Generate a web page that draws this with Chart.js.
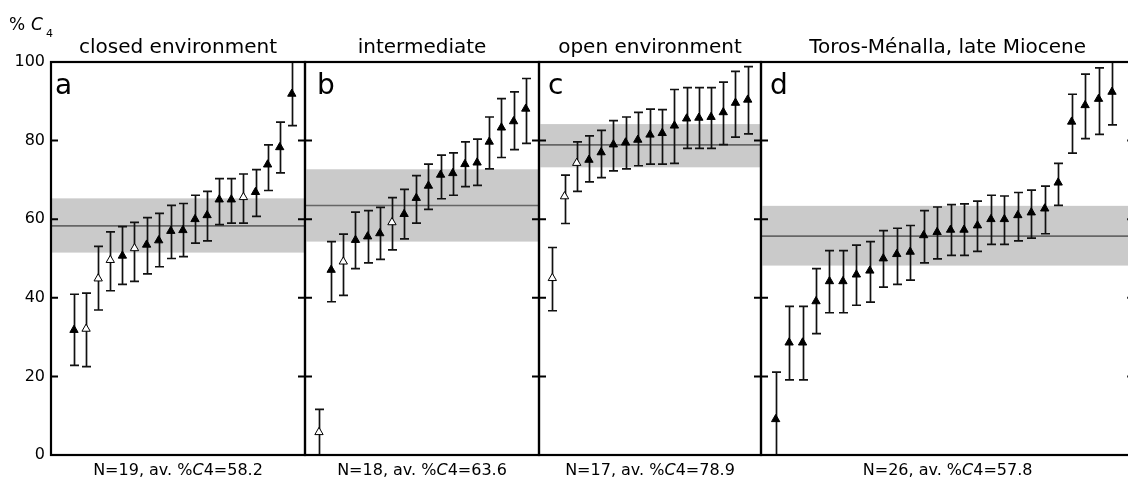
<!DOCTYPE html>
<html><head><meta charset="utf-8">
<script src="https://cdn.jsdelivr.net/npm/chart.js@4.4.1/dist/chart.umd.min.js"></script>
<style>
html,body{margin:0;padding:0;background:#fff;overflow:hidden;}
#wrap{position:relative;width:1128px;height:479px;overflow:hidden;background:#fff;}
.pane{position:absolute;left:0;top:0;width:1140px;height:479px;}
</style></head><body><div id="wrap">
<div class="pane"><canvas id="ca"></canvas></div>
<div class="pane"><canvas id="cb"></canvas></div>
<div class="pane"><canvas id="cc"></canvas></div>
<div class="pane"><canvas id="cd"></canvas></div>
</div>
<script>
// ---------- data ----------
const panelTitles = ['closed environment','intermediate','open environment','Toros-Ménalla, late Miocene'];
const panelLetters = ['a','b','c','d'];
const captionN = [19, 18, 17, 26];
const captionAvg = ['58.2', '63.6', '78.9', '57.8'];
const yTickValues = [0, 20, 40, 60, 80, 100];

const avgLine  = [58.3, 63.5, 78.9, 55.7];
const bandLow  = [51.5, 54.3, 73.2, 48.2];
const bandHigh = [65.3, 72.7, 84.2, 63.4];

const aMean = [31.8,32.1,44.9,49.6,50.7,52.6,53.5,54.6,57.0,57.2,60.0,61.0,65.0,65.0,65.6,66.9,73.9,78.3,91.9];
const aLow  = [22.8,22.5,36.9,41.8,43.4,44.2,46.1,47.9,50.0,50.5,53.9,54.5,58.6,59.0,59.0,60.7,67.3,71.8,83.8];
const aHigh = [40.9,41.2,53.1,56.8,58.1,59.2,60.4,61.5,63.5,64.0,66.1,67.1,70.3,70.3,71.5,72.6,78.9,84.7,100.5];
const aOpen = [0,1,1,1,0,1,0,0,0,0,0,0,0,0,1,0,0,0,0];

const bMean = [5.8,47.1,49.2,54.7,55.6,56.4,59.2,61.3,65.4,68.5,71.3,71.7,74.0,74.4,79.7,83.3,84.9,88.1];
const bLow  = [0.0,39.0,40.6,47.4,48.9,49.8,52.2,55.0,59.0,62.5,65.2,66.1,68.3,68.6,72.8,75.7,77.7,79.3];
const bHigh = [11.6,54.3,56.2,61.8,62.2,63.0,65.5,67.6,71.1,74.0,76.3,76.9,79.7,80.4,86.0,90.7,92.4,95.8];
const bOpen = [1,0,1,0,0,0,1,0,0,0,0,0,0,0,0,0,0,0];

const cMean = [45.0,65.8,74.3,75.1,77.0,79.0,79.5,80.2,81.5,81.9,83.8,85.6,85.8,86.0,87.2,89.6,90.4];
const cLow  = [36.7,58.9,67.1,69.5,70.6,72.3,72.8,73.6,74.0,74.0,74.2,78.0,78.0,78.0,79.0,80.9,81.7];
const cHigh = [52.8,71.2,79.7,81.2,82.6,85.1,86.0,87.2,88.0,87.9,93.0,93.5,93.5,93.5,94.9,97.6,98.8];
const cOpen = [1,1,1,0,0,0,0,0,0,0,0,0,0,0,0,0,0];

const dMean = [9.1,28.6,28.6,39.1,44.2,44.2,45.9,46.9,50.0,51.1,51.7,55.9,56.7,57.3,57.3,58.4,60.0,60.0,61.0,61.7,62.7,69.3,84.8,89.0,90.6,92.4];
const dLow  = [-2.9,19.1,19.1,30.9,36.2,36.2,38.1,38.9,42.7,43.4,44.5,48.9,49.9,50.8,50.8,51.8,53.6,53.6,54.5,55.2,56.3,63.5,76.8,80.5,81.6,84.0];
const dHigh = [21.1,37.8,37.8,47.4,52.0,52.0,53.4,54.3,57.1,57.7,58.4,62.2,63.1,63.7,63.9,64.6,66.1,65.9,66.8,67.4,68.4,74.2,91.8,96.9,98.5,100.8];
const dOpen = [0,0,0,0,0,0,0,0,0,0,0,0,0,0,0,0,0,0,0,0,0,0,0,0,0,0];

// ---------- layout (pixels / axis ranges) ----------
const CANVAS_W = 1140;
const panelEdges = [[51,305],[305,539],[539,761],[761,1135]];
const xRanges = [[-1.9,19.09],[-1.15,18.09],[-1.09,17.09],[-1.09,26.65]];
const letterOffset = [4, 12, 9, 9];
const FONT = '"DejaVu Sans", sans-serif';

const series = [
  {mean:aMean, low:aLow, high:aHigh, open:aOpen},
  {mean:bMean, low:bLow, high:bHigh, open:bOpen},
  {mean:cMean, low:cLow, high:cHigh, open:cOpen},
  {mean:dMean, low:dLow, high:dHigh, open:dOpen}
];

function makeDecor(p){
  const s = series[p];
  return {
    id:'decor'+p,
    beforeDatasetsDraw(chart){
      const {ctx, chartArea:ca, scales:{x, y}} = chart;
      ctx.save();
      ctx.beginPath(); ctx.rect(ca.left, ca.top, ca.right-ca.left, ca.bottom-ca.top); ctx.clip();
      const yb1 = y.getPixelForValue(bandHigh[p]), yb2 = y.getPixelForValue(bandLow[p]);
      ctx.fillStyle = '#cacaca';
      ctx.fillRect(ca.left, yb1, ca.right-ca.left, yb2-yb1);
      const ym = y.getPixelForValue(avgLine[p]);
      ctx.strokeStyle = '#666'; ctx.lineWidth = 1.6;
      ctx.beginPath(); ctx.moveTo(ca.left, ym); ctx.lineTo(ca.right, ym); ctx.stroke();
      ctx.strokeStyle = '#111'; ctx.lineWidth = 1.7;
      s.low.forEach((lo, i) => {
        const px = Math.round(x.getPixelForValue(i)) + 0.5;
        const p1 = y.getPixelForValue(lo), p2 = y.getPixelForValue(s.high[i]);
        ctx.beginPath();
        ctx.moveTo(px, p1); ctx.lineTo(px, p2);
        ctx.moveTo(px-4.5, p1); ctx.lineTo(px+4.5, p1);
        ctx.moveTo(px-4.5, p2); ctx.lineTo(px+4.5, p2);
        ctx.stroke();
      });
      ctx.restore();
    },
    afterDatasetsDraw(chart){
      const {ctx, chartArea:ca, scales:{y}} = chart;
      ctx.save();
      ctx.strokeStyle = '#000'; ctx.lineWidth = 2.2;
      ctx.strokeRect(ca.left, ca.top, ca.right-ca.left, ca.bottom-ca.top);
      ctx.lineWidth = 2;
      yTickValues.slice(1, -1).forEach(v => {
        const py = y.getPixelForValue(v);
        ctx.beginPath();
        ctx.moveTo(ca.left, py); ctx.lineTo(ca.left + 7, py);
        ctx.moveTo(ca.right - 7, py); ctx.lineTo(ca.right, py);
        ctx.stroke();
      });
      ctx.fillStyle = '#000';
      ctx.font = '28px ' + FONT;
      ctx.textBaseline = 'alphabetic'; ctx.textAlign = 'left';
      ctx.fillText(panelLetters[p], ca.left + letterOffset[p], ca.top + 32);
      ctx.restore();
    },
    afterDraw(chart){
      const {ctx, chartArea:ca} = chart;
      const cx = (ca.left + ca.right) / 2;
      ctx.save();
      ctx.fillStyle = '#000';
      ctx.textBaseline = 'alphabetic';
      ctx.textAlign = 'center';
      ctx.font = '20px ' + FONT;
      ctx.fillText(panelTitles[p], cx, 53);
      const part1 = 'N=' + captionN[p] + ', av. %', part2 = 'C', part3 = '4=' + captionAvg[p];
      const nf = '16px ' + FONT, itf = 'italic 16px ' + FONT;
      ctx.textAlign = 'left';
      ctx.font = nf; const w1 = ctx.measureText(part1).width, w3 = ctx.measureText(part3).width;
      ctx.font = itf; const w2 = ctx.measureText(part2).width;
      let xx = cx - (w1 + w2 + w3) / 2;
      const by = 475;
      ctx.font = nf; ctx.fillText(part1, xx, by); xx += w1;
      ctx.font = itf; ctx.fillText(part2, xx, by); xx += w2;
      ctx.font = nf; ctx.fillText(part3, xx, by);
      if (p === 0) {
        ctx.font = '17px ' + FONT; ctx.fillText('%', 9, 30);
        ctx.font = 'italic 17px ' + FONT; ctx.fillText('C', 31, 30);
        ctx.font = '11px ' + FONT; ctx.fillText('4', 46, 37);
      }
      ctx.restore();
    }
  };
}

function makeChart(id, p){
  const s = series[p];
  const [L, R] = panelEdges[p];
  const first = p === 0;
  const yScale = {
    type: 'linear', display: first, min: 0, max: 100,
    afterBuildTicks: sc => { sc.ticks = yTickValues.map(v => ({value: v})); },
    ticks: {color: '#000', font: {family: FONT, size: 16}, padding: 6},
    grid: {display: false, drawTicks: false},
    border: {display: false}
  };
  if (first) yScale.afterFit = sc => { sc.width = L; };
  return new Chart(document.getElementById(id), {
    type: 'scatter',
    data: {
      datasets: [{
        data: s.mean.map((m, i) => ({x: i, y: m})),
        pointStyle: 'triangle',
        pointRadius: 4.8,
        pointHoverRadius: 4.8,
        pointBackgroundColor: s.open.map(o => o ? '#ffffff' : '#000000'),
        pointBorderColor: '#000',
        pointBorderWidth: 1,
        showLine: false
      }]
    },
    options: {
      responsive: true,
      maintainAspectRatio: false,
      animation: false,
      events: [],
      layout: {padding: {left: first ? 0 : L, right: CANVAS_W - R, top: 62, bottom: 24}},
      plugins: {legend: {display: false}, tooltip: {enabled: false}, title: {display: false}},
      scales: {
        x: {type: 'linear', display: false, min: xRanges[p][0], max: xRanges[p][1]},
        y: yScale
      }
    },
    plugins: [makeDecor(p)]
  });
}

makeChart('ca', 0);
makeChart('cb', 1);
makeChart('cc', 2);
makeChart('cd', 3);
</script>
</body></html>
